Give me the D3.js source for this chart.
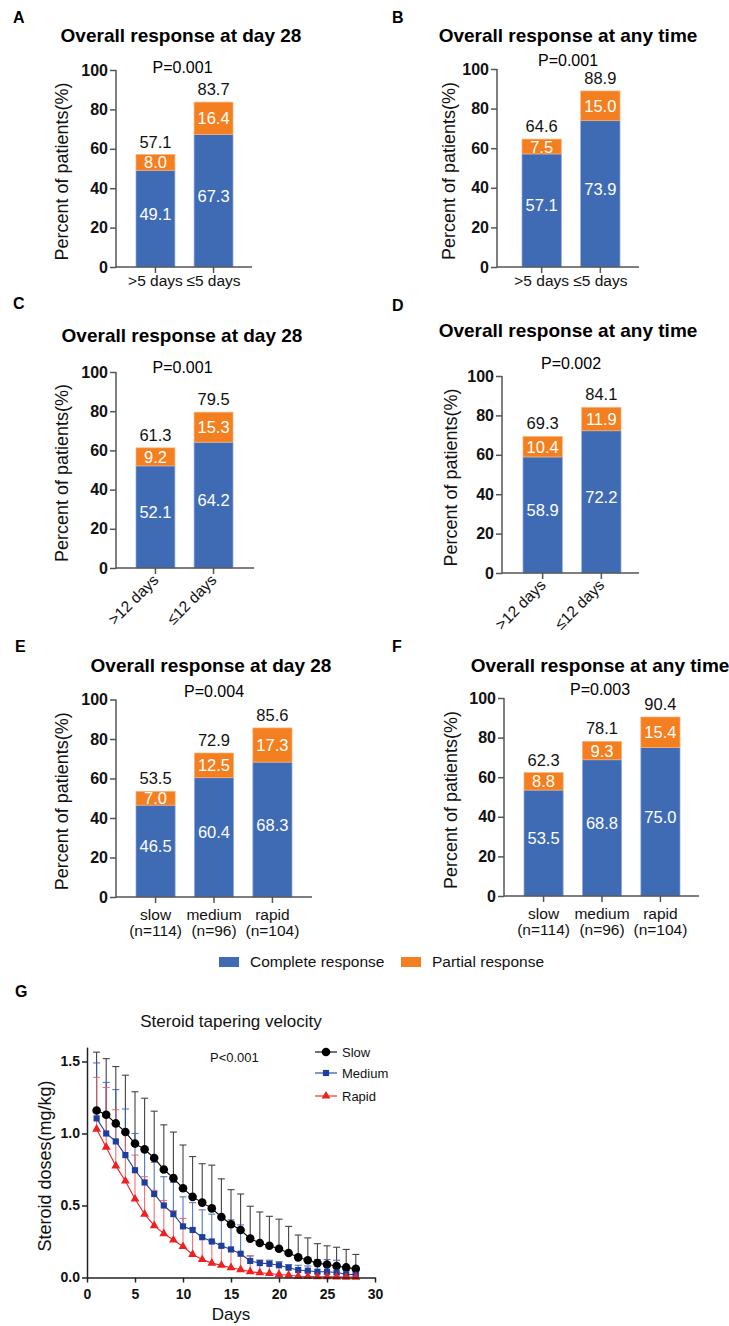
<!DOCTYPE html>
<html><head><meta charset="utf-8">
<script src="https://cdn.jsdelivr.net/npm/d3@7"></script>
<style>body{margin:0;background:#fff} svg{display:block} text{font-family:Arial,"Liberation Sans",sans-serif}</style>
</head><body>
<svg id="c" width="729" height="1326"></svg>
<script>
// ---------------- DATA ----------------
const catsFive = [">5 days", "≤5 days"];
const catsTwelve = [">12 days", "≤12 days"];
const catsVelocity = ["slow", "medium", "rapid"];
const velocityN = ["(n=114)", "(n=96)", "(n=104)"];
const yTicks = [0, 20, 40, 60, 80, 100];

const titleDay28 = "Overall response at day 28";
const titleAny = "Overall response at any time";

const aComplete = [49.1, 67.3], aPartial = [8.0, 16.4], aTotal = [57.1, 83.7], aP = "P=0.001";
const bComplete = [57.1, 73.9], bPartial = [7.5, 15.0], bTotal = [64.6, 88.9], bP = "P=0.001";
const cComplete = [52.1, 64.2], cPartial = [9.2, 15.3], cTotal = [61.3, 79.5], cP = "P=0.001";
const dComplete = [58.9, 72.2], dPartial = [10.4, 11.9], dTotal = [69.3, 84.1], dP = "P=0.002";
const eComplete = [46.5, 60.4, 68.3], ePartial = [7.0, 12.5, 17.3], eTotal = [53.5, 72.9, 85.6], eP = "P=0.004";
const fComplete = [53.5, 68.8, 75.0], fPartial = [8.8, 9.3, 15.4], fTotal = [62.3, 78.1, 90.4], fP = "P=0.003";

const legendLabels = ["Complete response", "Partial response"];

// Panel G
const days = [1,2,3,4,5,6,7,8,9,10,11,12,13,14,15,16,17,18,19,20,21,22,23,24,25,26,27,28];
const slowMean   = [1.16,1.13,1.07,1.01,0.93,0.89,0.83,0.75,0.69,0.62,0.56,0.52,0.48,0.42,0.37,0.33,0.27,0.24,0.22,0.20,0.17,0.14,0.12,0.10,0.09,0.08,0.07,0.06];
const slowUpper  = [1.565,1.52,1.465,1.405,1.29,1.245,1.155,1.06,1.01,0.92,0.84,0.79,0.78,0.685,0.61,0.58,0.495,0.455,0.425,0.405,0.355,0.295,0.275,0.235,0.22,0.21,0.195,0.16];
const mediumMean = [1.105,1.00,0.945,0.85,0.745,0.66,0.58,0.50,0.44,0.355,0.33,0.28,0.25,0.22,0.195,0.165,0.115,0.10,0.095,0.085,0.068,0.052,0.047,0.04,0.04,0.035,0.023,0.019];
const mediumUpper= [1.49,1.355,1.305,1.17,1.00,0.90,0.80,0.70,0.66,0.56,0.52,0.47,0.44,0.42,0.40,0.365,0.15,0.12,0.12,0.11,0.09,0.085,0.08,0.125,0.125,0.12,0.05,0.03];
const rapidMean  = [1.03,0.905,0.775,0.67,0.545,0.44,0.36,0.305,0.26,0.215,0.16,0.125,0.10,0.085,0.068,0.055,0.04,0.033,0.028,0.021,0.016,0.009,0.007,0.005,0.005,0.004,0.003,0.003];
const rapidUpper = [1.39,1.32,1.165,1.0,0.85,0.70,0.605,0.535,0.465,0.41,0.34,0.29,0.25,0.21,0.19,0.17,0.15,0.12,0.10,0.08,0.065,0.05,0.04,0.03,0.025,0.02,0.02,0.015];
const seriesNames = ["Slow", "Medium", "Rapid"];
const gXTicks = [0,5,10,15,20,25,30];
const gYTicks = [0,0.5,1.0,1.5];

// ---------------- STYLE / LAYOUT ----------------
const FONT = 'Arial, "Liberation Sans", sans-serif';
const BLUE = "#3f6bb4", ORANGE = "#f47f20", AX = "#555";
const svg = d3.select("#c");

const panels = [
 {letter:"A", title:titleDay28, cats:catsFive, complete:aComplete, partial:aPartial, total:aTotal, p:aP, mode:"flat",
  L:{lx:13,ly:23,tx:181,ty:42,px:182.5,py:73,ax:116,axEnd:252,band:[136,233],y0:267,y100:70,ytx:68}},
 {letter:"B", title:titleAny, cats:catsFive, complete:bComplete, partial:bPartial, total:bTotal, p:bP, mode:"flat",
  L:{lx:392,ly:23,tx:568,ty:42,px:568,py:65.5,ax:497,axEnd:639,band:[522,620],y0:267,y100:69,ytx:455}},
 {letter:"C", title:titleDay28, cats:catsTwelve, complete:cComplete, partial:cPartial, total:cTotal, p:cP, mode:"rot",
  L:{lx:13,ly:309,tx:182,ty:342,px:182.5,py:373,ax:116,axEnd:254,band:[136,233],y0:568,y100:372,ytx:68}},
 {letter:"D", title:titleAny, cats:catsTwelve, complete:dComplete, partial:dPartial, total:dTotal, p:dP, mode:"rot",
  L:{lx:392,ly:311,tx:568,ty:337,px:571,py:369,ax:502,axEnd:639,band:[523,621],y0:573,y100:376,ytx:457}},
 {letter:"E", title:titleDay28, cats:catsVelocity, sub:velocityN, complete:eComplete, partial:ePartial, total:eTotal, p:eP, mode:"two",
  L:{lx:15,ly:652,tx:211,ty:672,px:214,py:697,ax:116,axEnd:312,band:[136,292],y0:897,y100:699.5,ytx:68}},
 {letter:"F", title:titleAny, cats:catsVelocity, sub:velocityN, complete:fComplete, partial:fPartial, total:fTotal, p:fP, mode:"two",
  L:{lx:392,ly:652,tx:600,ty:672,px:600,py:695,ax:504,axEnd:699,band:[524,680],y0:896,y100:698,ytx:457}}
];

function drawBar(d){
  const L = d.L;
  const g = svg.append("g").attr("font-family", FONT);
  g.append("text").attr("x",L.lx).attr("y",L.ly).attr("font-weight","bold").attr("font-size",16).text(d.letter);
  g.append("text").attr("x",L.tx).attr("y",L.ty).attr("text-anchor","middle").attr("font-weight","bold").attr("font-size",19).text(d.title);
  g.append("text").attr("x",L.px).attr("y",L.py).attr("text-anchor","middle").attr("font-size",16).text(d.p);

  const y = d3.scaleLinear().domain([0,100]).range([L.y0, L.y100]);
  const x = d3.scaleBand().domain(d.cats).range(L.band).paddingInner(0.33).paddingOuter(0);
  const bw = x.bandwidth();
  const idx = d.cats.map((c,i)=>i);

  g.selectAll(".cr").data(idx).join("rect")
    .attr("x", i=>x(d.cats[i])).attr("width", bw)
    .attr("y", i=>y(d.complete[i])).attr("height", i=>y(0)-y(d.complete[i]))
    .attr("fill", BLUE).attr("stroke","#8eaadb").attr("stroke-width",0.7);
  g.selectAll(".pr").data(idx).join("rect")
    .attr("x", i=>x(d.cats[i])).attr("width", bw)
    .attr("y", i=>y(d.complete[i]+d.partial[i])).attr("height", i=>y(d.complete[i])-y(d.complete[i]+d.partial[i]))
    .attr("fill", ORANGE).attr("stroke","#f9b27a").attr("stroke-width",0.7);

  // value labels
  g.selectAll(".cl").data(idx).join("text")
    .attr("x", i=>x(d.cats[i])+bw/2).attr("y", i=>y(d.complete[i]/2)-5)
    .attr("dominant-baseline","central").attr("text-anchor","middle").attr("font-size",16.5).attr("fill","#fff")
    .text(i=>d.complete[i].toFixed(1));
  g.selectAll(".pl").data(idx).join("text")
    .attr("x", i=>x(d.cats[i])+bw/2).attr("y", i=>y(d.complete[i]+d.partial[i]/2))
    .attr("dominant-baseline","central").attr("text-anchor","middle").attr("font-size",16.5).attr("fill","#fff")
    .text(i=>d.partial[i].toFixed(1));
  g.selectAll(".tl").data(idx).join("text")
    .attr("x", i=>x(d.cats[i])+bw/2).attr("y", i=>y(d.total[i])-7)
    .attr("text-anchor","middle").attr("font-size",16.5).attr("fill","#111")
    .text(i=>d.total[i].toFixed(1));

  // y axis
  const ya = g.append("g").attr("transform",`translate(${L.ax},0)`)
    .call(d3.axisLeft(y).tickValues(yTicks).tickSize(6).tickPadding(2));
  ya.select(".domain").remove();
  ya.attr("font-family",FONT).attr("font-size",16);
  ya.selectAll("line").attr("stroke",AX).attr("stroke-width",1.5);
  ya.selectAll("text").attr("font-weight","bold").attr("fill","#111");
  g.append("line").attr("x1",L.ax).attr("x2",L.ax).attr("y1",L.y100).attr("y2",L.y0+0.75).attr("stroke",AX).attr("stroke-width",1.5);

  // x axis
  const xa = g.append("g").attr("transform",`translate(0,${L.y0})`)
    .call(d3.axisBottom(x).tickSize(6).tickFormat(""));
  xa.select(".domain").remove();
  xa.selectAll("line").attr("stroke",AX).attr("stroke-width",1.5);
  g.append("line").attr("x1",L.ax).attr("x2",L.axEnd).attr("y1",L.y0).attr("y2",L.y0).attr("stroke",AX).attr("stroke-width",1.5);

  if (d.mode === "flat") {
    g.selectAll(".xl").data(d.cats).join("text")
      .attr("x", c=>x(c)+bw/2).attr("y", L.y0+19).attr("text-anchor","middle").attr("font-size",15.5).attr("fill","#111").text(c=>c);
  } else if (d.mode === "rot") {
    g.selectAll(".xl").data(d.cats).join("text")
      .attr("transform", c=>`translate(${x(c)+bw/2+4},${L.y0+13}) rotate(-45)`)
      .attr("text-anchor","end").attr("font-size",15.5).attr("fill","#111").text(c=>c);
  } else {
    g.selectAll(".xl").data(d.cats).join("text")
      .attr("x", c=>x(c)+bw/2).attr("y", L.y0+23).attr("text-anchor","middle").attr("font-size",15.5).attr("fill","#111").text(c=>c);
    g.selectAll(".xl2").data(d.sub).join("text")
      .attr("x", (c,i)=>x(d.cats[i])+bw/2).attr("y", L.y0+39).attr("text-anchor","middle").attr("font-size",15.5).attr("fill","#111").text(c=>c);
  }

  // y title
  g.append("text").attr("transform",`translate(${L.ytx},${(L.y0+L.y100)/2+3}) rotate(-90)`)
    .attr("text-anchor","middle").attr("font-size",18).attr("fill","#111").text("Percent of patients(%)");
}
panels.forEach(drawBar);

// legend
const lg = svg.append("g").attr("font-family",FONT);
const legX = [219, 401], legColors = [BLUE, ORANGE];
lg.selectAll("rect").data(legendLabels).join("rect")
  .attr("x",(t,i)=>legX[i]).attr("y",957).attr("width",20).attr("height",10).attr("fill",(t,i)=>legColors[i]);
lg.selectAll("text").data(legendLabels).join("text")
  .attr("x",(t,i)=>legX[i]+31).attr("y",967).attr("font-size",15.5).attr("fill","#111").text(t=>t);

// ---------------- PANEL G ----------------
(function(){
  const g = svg.append("g").attr("font-family",FONT);
  g.append("text").attr("x",15).attr("y",997).attr("font-weight","bold").attr("font-size",16).text("G");
  g.append("text").attr("x",231).attr("y",1027).attr("text-anchor","middle").attr("font-size",17).attr("fill","#111").text("Steroid tapering velocity");
  const x = d3.scaleLinear().domain([0,30]).range([87,375]);
  const y = d3.scaleLinear().domain([0,1.6]).range([1277.5,1047.1]);

  const series = [
    {name:seriesNames[0], mean:slowMean, upper:slowUpper, color:"#000", bar:"#222", shape:d3.symbolCircle, size:58},
    {name:seriesNames[1], mean:mediumMean, upper:mediumUpper, color:"#1c3f9e", bar:"#3a5fb8", shape:d3.symbolSquare, size:38},
    {name:seriesNames[2], mean:rapidMean, upper:rapidUpper, color:"#ee2020", bar:"#f05a5a", shape:d3.symbolTriangle, size:34}
  ];

  // error bars
  series.forEach(s=>{
    const eg = g.append("g").attr("stroke", s.bar).attr("stroke-width",1.1).attr("opacity",0.85);
    eg.selectAll(".v").data(days).join("line")
      .attr("x1",(d,i)=>x(d)).attr("x2",(d,i)=>x(d)).attr("y1",(d,i)=>y(s.mean[i])).attr("y2",(d,i)=>y(s.upper[i]));
    eg.selectAll(".c").data(days).join("line")
      .attr("x1",(d,i)=>x(d)-3.5).attr("x2",(d,i)=>x(d)+3.5).attr("y1",(d,i)=>y(s.upper[i])).attr("y2",(d,i)=>y(s.upper[i]));
  });
  // lines + markers
  series.forEach(s=>{
    const line = d3.line().x((d,i)=>x(d)).y((d,i)=>y(s.mean[i]));
    g.append("path").datum(days).attr("d",line).attr("fill","none").attr("stroke",s.color).attr("stroke-width",1.1);
    g.selectAll(null).data(days).join("path")
      .attr("transform",(d,i)=>`translate(${x(d)},${y(s.mean[i])})`)
      .attr("d", d3.symbol().type(s.shape).size(s.size)).attr("fill",s.color);
  });

  // axes
  const xa = g.append("g").attr("transform","translate(0,1277.5)")
    .call(d3.axisBottom(x).tickValues(gXTicks).tickSize(5).tickPadding(6.5).tickSizeOuter(0));
  xa.attr("font-family",FONT).attr("font-size",14);
  xa.select(".domain").attr("stroke","#222").attr("stroke-width",1.5);
  xa.selectAll("line").attr("stroke","#222").attr("stroke-width",1.5);
  xa.selectAll("text").attr("font-weight","bold").attr("fill","#111");
  const ya = g.append("g").attr("transform","translate(87,0)")
    .call(d3.axisLeft(y).tickValues(gYTicks).tickFormat(d3.format(".1f")).tickSize(5).tickPadding(2).tickSizeOuter(0));
  ya.attr("font-family",FONT).attr("font-size",14);
  ya.select(".domain").attr("stroke","#222").attr("stroke-width",1.5);
  ya.selectAll("line").attr("stroke","#222").attr("stroke-width",1.5);
  ya.selectAll("text").attr("font-weight","bold").attr("fill","#111");

  g.append("text").attr("x",231).attr("y",1320).attr("text-anchor","middle").attr("font-size",17).attr("fill","#111").text("Days");
  g.append("text").attr("transform","translate(51,1166) rotate(-90)").attr("text-anchor","middle").attr("font-size",18).attr("fill","#111").text("Steroid doses(mg/kg)");
  g.append("text").attr("x",210).attr("y",1062).attr("font-size",13).attr("fill","#111").text("P<0.001");

  // legend
  const legY = [1052, 1073, 1096];
  series.forEach((s,i)=>{
    g.append("line").attr("x1",315).attr("x2",337).attr("y1",legY[i]).attr("y2",legY[i]).attr("stroke",s.color).attr("stroke-width",1.1);
    g.append("path").attr("transform",`translate(326,${legY[i]})`).attr("d",d3.symbol().type(s.shape).size(s.size)).attr("fill",s.color);
    g.append("text").attr("x",342).attr("y",legY[i]).attr("dominant-baseline","central").attr("font-size",13).attr("fill","#111").text(s.name);
  });
})();
</script>
</body></html>
